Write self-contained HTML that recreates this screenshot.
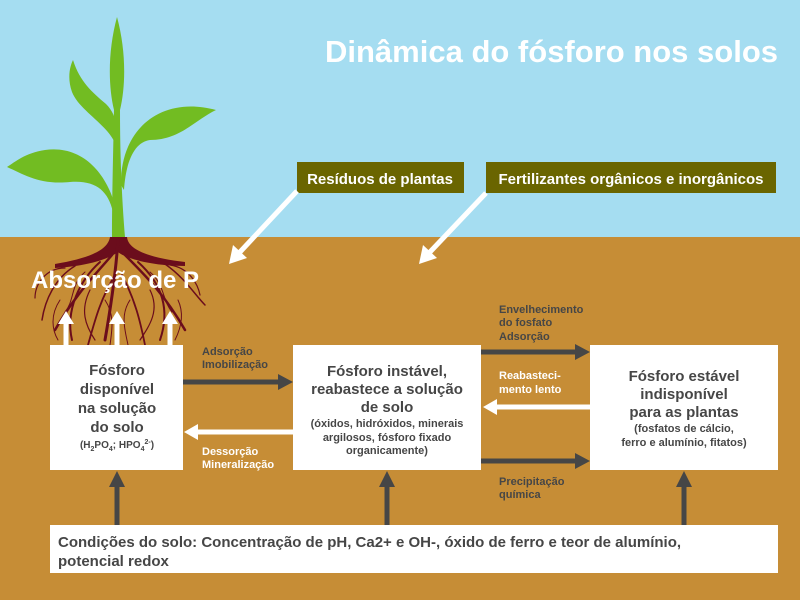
<!DOCTYPE html>
<html><head><meta charset="utf-8"><style>
html,body{margin:0;padding:0;width:800px;height:600px;overflow:hidden;}
svg{display:block;font-family:"Liberation Sans",Arial,sans-serif;}
</style></head><body>
<svg width="800" height="600" viewBox="0 0 800 600" xmlns="http://www.w3.org/2000/svg">
<rect x="0" y="0" width="800" height="237" fill="#a5ddf1"/>
<rect x="0" y="237" width="800" height="363" fill="#c68d36"/>
<text x="778" y="62" font-size="31" font-weight="bold" fill="#fff" text-anchor="end">Dinâmica do fósforo nos solos</text>
<!-- plant -->
<g fill="#72bc22">
<path d="M112,237 C112,200 113,160 114,110 C108,85 108,50 117,17 C126,50 126,85 120,110 C120,160 122,200 125,237 Z"/>
<path d="M115,205 C105,170 80,145 45,150 C25,153 15,162 7,167 C25,175 40,185 70,182 C95,180 108,190 113,212Z"/>
<path d="M121,185 C120,130 160,95 216,110 C195,120 180,140 150,140 C135,142 126,160 124,190Z"/>
<path d="M117,148 C110,125 80,112 72,92 C67,78 70,66 73,60 C80,82 92,92 106,104 C116,114 119,128 117,148Z"/>
</g>
<!-- roots -->
<path d="M110,237 L127,237 C128,250 150,258 185,262 L185,266 C150,266 125,258 118,252 C110,258 90,266 55,268 L55,264 C90,258 108,250 110,237Z" fill="#6b0d1c"/>
<g stroke="#6b0d1c" fill="none" stroke-linecap="round">
<path d="M118,240 C116,270 112,300 105,340" stroke-width="3"/>
<path d="M112,255 C95,275 75,295 55,330" stroke-width="2.5"/>
<path d="M125,255 C145,275 165,295 185,330" stroke-width="2.5"/>
<path d="M100,262 C80,280 65,310 72,340" stroke-width="2"/>
<path d="M138,262 C158,280 172,305 160,340" stroke-width="2"/>
<path d="M115,275 C100,300 95,320 88,345" stroke-width="1.8"/>
<path d="M122,275 C135,300 140,320 145,345" stroke-width="1.8"/>
<path d="M75,266 C55,278 45,300 42,320" stroke-width="1.5"/>
<path d="M165,264 C185,278 195,295 205,305" stroke-width="1.5"/>
<path d="M65,268 C45,268 35,285 35,298" stroke-width="1.2"/>
<path d="M170,265 C190,268 198,285 200,295" stroke-width="1.2"/>
<path d="M90,290 C80,310 85,325 95,340" stroke-width="1.2"/>
<path d="M150,290 C160,310 150,325 140,340" stroke-width="1.2"/>
<path d="M60,300 C50,315 52,330 58,340" stroke-width="1"/>
<path d="M178,300 C185,315 180,330 175,340" stroke-width="1"/>
<path d="M130,300 C120,315 125,330 128,345" stroke-width="1"/>
<path d="M105,300 C115,315 112,330 110,345" stroke-width="1"/>
<path d="M85,272 C70,285 75,300 65,312" stroke-width="1"/>
<path d="M150,272 C165,285 162,300 172,312" stroke-width="1"/>
</g>
<text x="31" y="288" font-size="24" font-weight="bold" fill="#fff">Absorção de P</text>
<!-- white up arrows -->
<g stroke="#fff" stroke-width="5">
<line x1="66" y1="345" x2="66" y2="322"/><line x1="117" y1="345" x2="117" y2="322"/><line x1="170" y1="345" x2="170" y2="322"/>
</g>
<g fill="#fff">
<path d="M58,324 L66,311 L74,324Z"/><path d="M109,324 L117,311 L125,324Z"/><path d="M162,324 L170,311 L178,324Z"/>
</g>
<!-- label boxes -->
<rect x="297" y="162" width="167" height="31" fill="#6a6500"/>
<text x="380" y="184" font-size="15" font-weight="bold" fill="#fff" text-anchor="middle">Resíduos de plantas</text>
<rect x="486" y="162" width="290" height="31" fill="#6a6500"/>
<text x="631" y="184" font-size="15" font-weight="bold" fill="#fff" text-anchor="middle">Fertilizantes orgânicos e inorgânicos</text>
<line x1="297" y1="191" x2="240" y2="252" stroke="#fff" stroke-width="5"/>
<path d="M229,264 L233,245 L247,258Z" fill="#fff"/>
<line x1="486" y1="193" x2="430" y2="252" stroke="#fff" stroke-width="5"/>
<path d="M419,264 L423,245 L437,258Z" fill="#fff"/>
<!-- boxes -->
<rect x="50" y="345" width="133" height="125" fill="#fff"/>
<rect x="293" y="345" width="188" height="125" fill="#fff"/>
<rect x="590" y="345" width="188" height="125" fill="#fff"/>
<rect x="50" y="525" width="728" height="48" fill="#fff"/>
<g fill="#464646" font-weight="bold" text-anchor="middle">
<text font-size="15"><tspan x="117" y="375">Fósforo</tspan><tspan x="117" y="394">disponível</tspan><tspan x="117" y="413">na solução</tspan><tspan x="117" y="432">do solo</tspan></text>
<text x="117" y="448" font-size="10">(H<tspan font-size="7" dy="3">2</tspan><tspan dy="-3">PO</tspan><tspan font-size="7" dy="3">4</tspan><tspan dy="-3">; HPO</tspan><tspan font-size="7" dy="3">4</tspan><tspan font-size="7" dy="-7">2-</tspan><tspan dy="4">)</tspan></text>
<text font-size="15"><tspan x="387" y="376">Fósforo instável,</tspan><tspan x="387" y="394">reabastece a solução</tspan><tspan x="387" y="412">de solo</tspan></text>
<text font-size="11"><tspan x="387" y="427">(óxidos, hidróxidos, minerais</tspan><tspan x="387" y="441">argilosos, fósforo fixado</tspan><tspan x="387" y="454">organicamente)</tspan></text>
<text font-size="15"><tspan x="684" y="381">Fósforo estável</tspan><tspan x="684" y="399">indisponível</tspan><tspan x="684" y="417">para as plantas</tspan></text>
<text font-size="11"><tspan x="684" y="432">(fosfatos de cálcio,</tspan><tspan x="684" y="446">ferro e alumínio, fitatos)</tspan></text>
</g>
<text font-size="15" font-weight="bold" fill="#464646"><tspan x="58" y="547">Condições do solo: Concentração de pH, Ca2+ e OH-, óxido de ferro e teor de alumínio,</tspan><tspan x="58" y="566">potencial redox</tspan></text>
<!-- horizontal arrows -->
<line x1="183" y1="382" x2="280" y2="382" stroke="#464646" stroke-width="5"/>
<path d="M278,374 L293,382 L278,390Z" fill="#464646"/>
<line x1="293" y1="432" x2="198" y2="432" stroke="#fff" stroke-width="5"/>
<path d="M198,424 L184,432 L198,440Z" fill="#fff"/>
<line x1="481" y1="352" x2="577" y2="352" stroke="#464646" stroke-width="5"/>
<path d="M575,344 L590,352 L575,360Z" fill="#464646"/>
<line x1="590" y1="407" x2="496" y2="407" stroke="#fff" stroke-width="5"/>
<path d="M497,399 L483,407 L497,415Z" fill="#fff"/>
<line x1="481" y1="461" x2="577" y2="461" stroke="#464646" stroke-width="5"/>
<path d="M575,453 L590,461 L575,469Z" fill="#464646"/>
<!-- vertical arrows -->
<g stroke="#464646" stroke-width="5">
<line x1="117" y1="525" x2="117" y2="485"/><line x1="387" y1="525" x2="387" y2="485"/><line x1="684" y1="525" x2="684" y2="485"/>
</g>
<g fill="#464646">
<path d="M109,487 L117,471 L125,487Z"/><path d="M379,487 L387,471 L395,487Z"/><path d="M676,487 L684,471 L692,487Z"/>
</g>
<!-- small labels -->
<g font-size="11" font-weight="bold">
<text fill="#464646"><tspan x="202" y="355">Adsorção</tspan><tspan x="202" y="368">Imobilização</tspan></text>
<text fill="#fff"><tspan x="202" y="455">Dessorção</tspan><tspan x="202" y="468">Mineralização</tspan></text>
<text fill="#464646"><tspan x="499" y="313">Envelhecimento</tspan><tspan x="499" y="326">do fosfato</tspan><tspan x="499" y="340">Adsorção</tspan></text>
<text fill="#fff"><tspan x="499" y="379">Reabasteci-</tspan><tspan x="499" y="393">mento lento</tspan></text>
<text fill="#464646"><tspan x="499" y="485">Precipitação</tspan><tspan x="499" y="498">química</tspan></text>
</g>
</svg>
</body></html>
